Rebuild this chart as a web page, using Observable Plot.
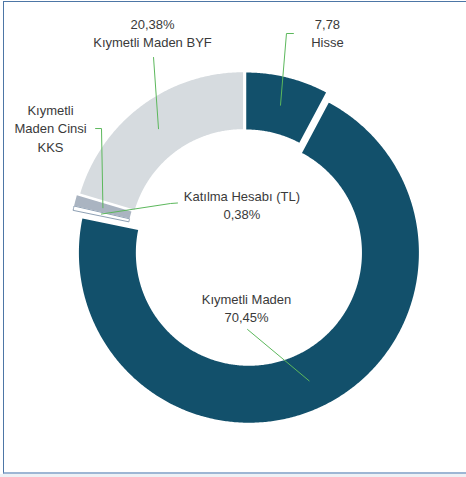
<!DOCTYPE html>
<html>
<head>
<meta charset="utf-8">
<script src="https://cdn.jsdelivr.net/npm/d3@7"></script>
<script src="https://cdn.jsdelivr.net/npm/@observablehq/plot@0.6"></script>
<style>
  html, body { margin: 0; padding: 0; background: #ffffff; }
  #wrap { position: relative; width: 466px; height: 477px; overflow: hidden; }
  #frame { position: absolute; left: 3px; top: 1px; width: 463px; height: 470px;
           border-top: 1px solid #4d76a6; border-left: 1px solid #4d76a6; border-bottom: 2px solid #9db6d4; box-sizing: content-box; }
  #strip { position: absolute; left: 0; top: 474px; width: 466px; height: 3px; background: #eef1f5; }
  #chart { position: absolute; left: 0; top: 0; }
</style>
</head>
<body>
<div id="wrap">
  <div id="frame"></div>
  <div id="strip"></div>
  <div id="chart"></div>
</div>
<script>
// ---- data ----
const categories = ["Hisse", "Kıymetli Maden", "Katılma Hesabı (TL)", "Kıymetli Maden Cinsi KKS", "Kıymetli Maden BYF"];
const shares = [7.78, 70.45, 0.38, 1.01, 20.38];
const labelTexts = [
  "7,78\nHisse",
  "Kıymetli Maden\n70,45%",
  "Katılma Hesabı (TL)\n0,38%",
  "Kıymetli\nMaden Cinsi\nKKS",
  "20,38%\nKıymetli Maden BYF"
];

// ---- styling / layout (not data) ----
const colors = ["#12506b", "#12506b", "#ffffff", "#aab4c1", "#d6dbdf"];
const strokes = ["none", "none", "#8ea0b4", "none", "none"];
const explode = [0.018, 0.047, 0.035, 0.035, 0.024];
const innerRatio = 0.665;
// label centres and leader elbows in chart units (radius = 1)
const labelPos = [[0.482, 1.253], [0.006, -0.362], [-0.021, 0.241], [-1.147, 0.694], [-0.547, 1.253]];
const elbows = [
  [[0.282, 1.247], [0.241, 1.247]],
  [[0.012, -0.494]],
  [[-0.40, 0.25], [-0.441, 0.247]],
  [[-0.882, 0.688], [-0.847, 0.688]],
  [[-0.541, 1.106]]
];

const W = 466, H = 477, PX = 170, CX = 245, CY = 245;

const pie = d3.pie().sort(null).value(d => d)(shares);

const slices = pie.map((p, i) => {
  const mid = (p.startAngle + p.endAngle) / 2;
  const ox = Math.sin(mid) * explode[i], oy = Math.cos(mid) * explode[i];
  const pts = [];
  const n = Math.max(2, Math.ceil((p.endAngle - p.startAngle) / (Math.PI / 360)));
  for (let k = 0; k <= n; k++) {
    const a = p.startAngle + (p.endAngle - p.startAngle) * k / n;
    pts.push({x: ox + Math.sin(a), y: oy + Math.cos(a)});
  }
  for (let k = n; k >= 0; k--) {
    const a = p.startAngle + (p.endAngle - p.startAngle) * k / n;
    pts.push({x: ox + innerRatio * Math.sin(a), y: oy + innerRatio * Math.cos(a)});
  }
  const rm = (1 + innerRatio) / 2;
  const anchor = {x: ox + rm * Math.sin(mid), y: oy + rm * Math.cos(mid)};
  return {pts, anchor, i};
});

const leaders = slices.map(s => {
  const pts = elbows[s.i].map(([x, y]) => ({x, y}));
  pts.push(s.anchor);
  return pts;
});

const labels = categories.map((c, i) => ({cat: c, text: labelTexts[i], x: labelPos[i][0], y: labelPos[i][1]}));

const marks = [];
slices.forEach(s => {
  marks.push(Plot.line(s.pts, {x: "x", y: "y", curve: "linear-closed", fill: colors[s.i], stroke: strokes[s.i], strokeWidth: 1}));
});
leaders.forEach(l => {
  marks.push(Plot.line(l, {x: "x", y: "y", stroke: "#5cb85c", strokeWidth: 1}));
});
marks.push(Plot.text(labels, {x: "x", y: "y", text: "text", lineAnchor: "middle", textAnchor: "middle",
  fontSize: 13, lineHeight: 1.4, fill: "#3a3a3a"}));

const chart = Plot.plot({
  width: W, height: H,
  margin: 0,
  x: {domain: [(0 - CX) / PX, (W - CX) / PX], axis: null},
  y: {domain: [(CY - H) / PX, CY / PX], axis: null},
  style: {fontFamily: "'Liberation Sans', Arial, sans-serif", background: "transparent", overflow: "visible"},
  marks
});
document.getElementById("chart").appendChild(chart);
</script>
</body>
</html>
